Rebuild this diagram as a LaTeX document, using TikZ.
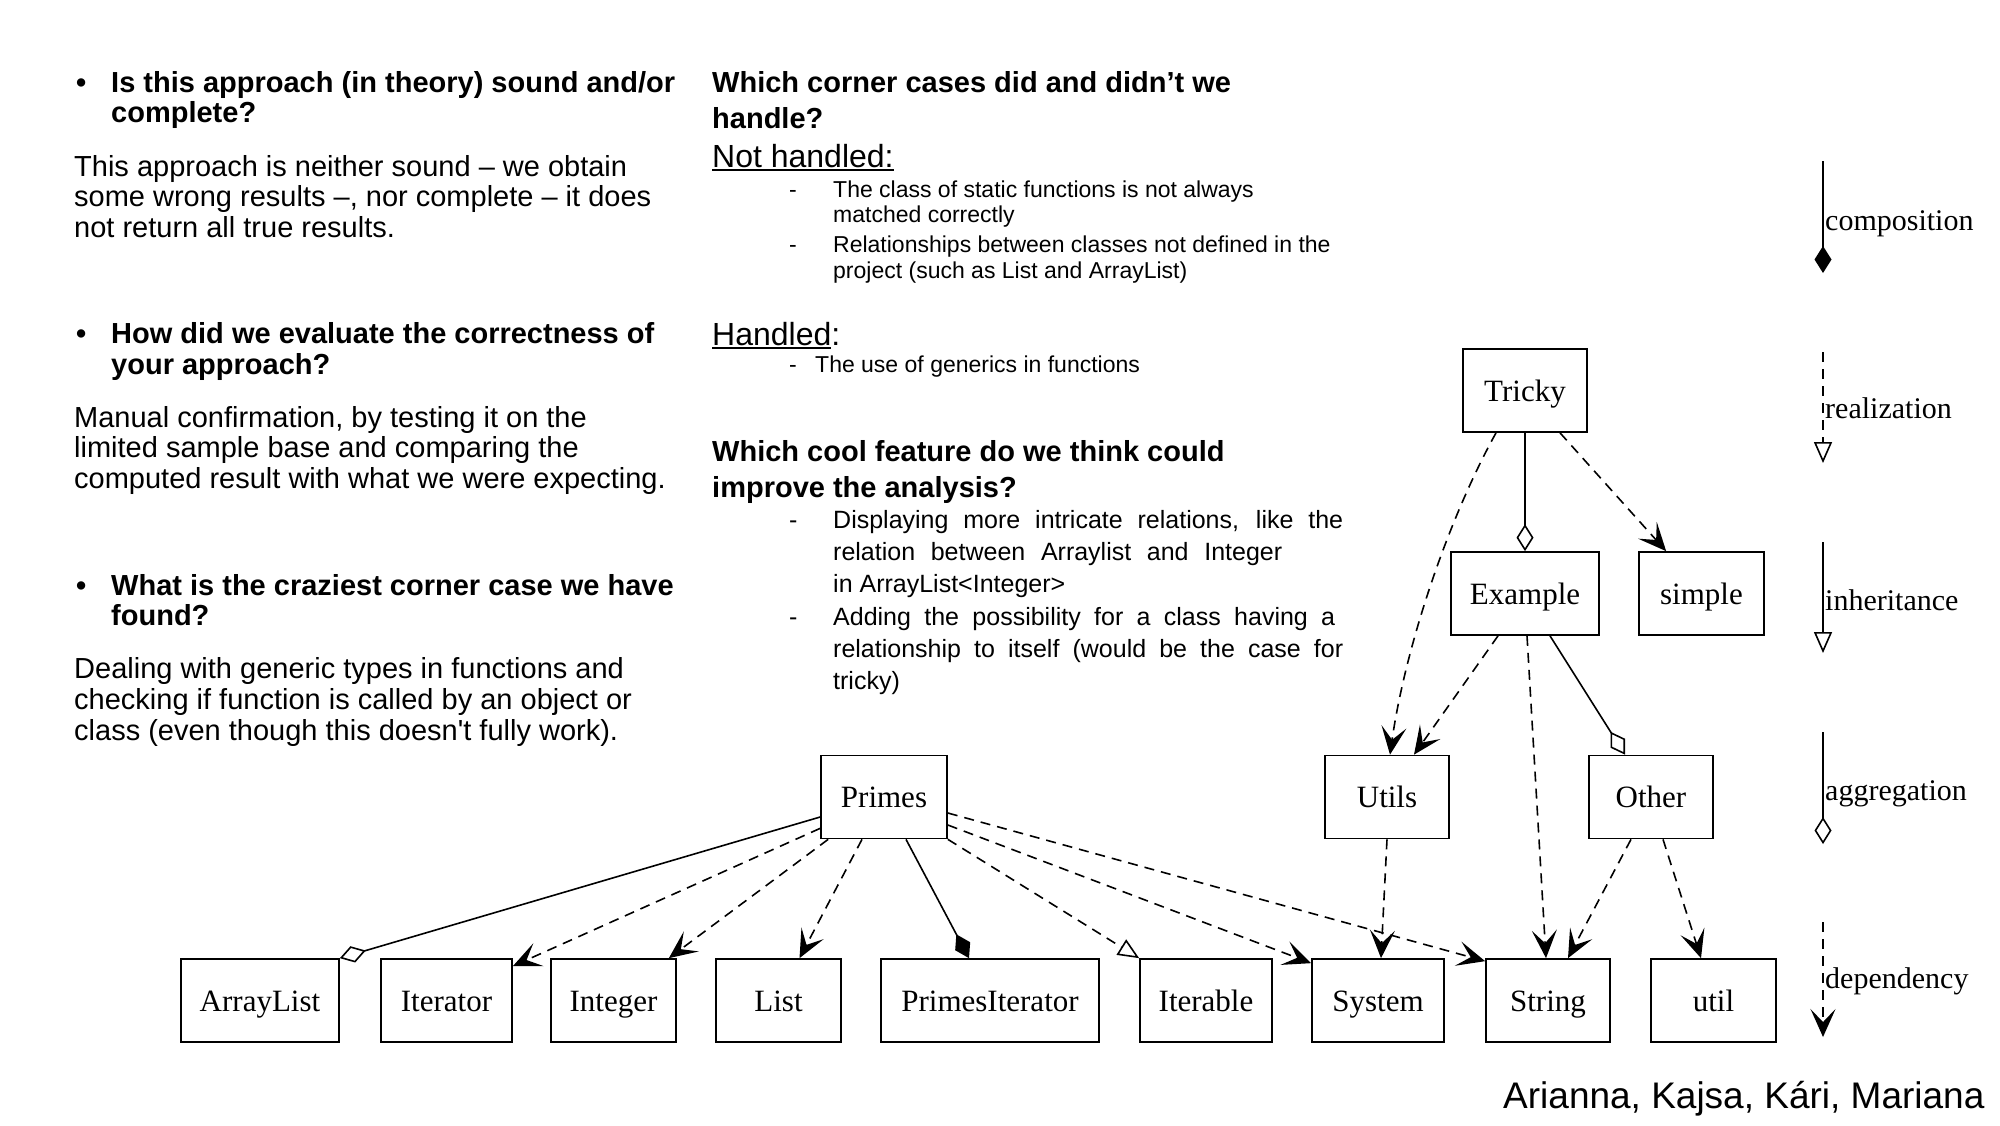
\documentclass[tikz,border=0pt]{standalone}
\usepackage{fontspec}
\setmainfont{Liberation Sans}
\newfontfamily\tmsfont{Liberation Serif}
\usetikzlibrary{arrows.meta}
\newcommand\ulx[1]{\setbox0\hbox{#1}\rlap{\rule[-4pt]{\wd0}{2pt}}\box0}
\newcommand\lns[2]{\vtop{\baselineskip=#1pt\lineskiplimit=-100pt\lineskip=0pt #2}}
\tikzset{
  cls/.style={draw, line width=1.7pt, minimum height=83pt, inner sep=0pt, text height=21pt, text depth=0pt, font=\tmsfont\fontsize{31}{31}\selectfont},
  depl/.style={line width=1.6pt, dash pattern=on 10pt off 7pt, -{Stealth[length=28pt,width=25pt,inset=13pt]}},
  aggl/.style={line width=1.6pt, -{Diamond[open,length=27pt,width=17pt]}},
  compl/.style={line width=1.6pt, -{Diamond[length=27pt,width=17pt]}},
  reall/.style={line width=1.6pt, dash pattern=on 10pt off 7pt, -{Triangle[open,length=21pt,width=18pt]}},
  inhl/.style={line width=1.6pt, -{Triangle[open,length=21pt,width=18pt]}},
  lbl/.style={anchor=base west, inner sep=0pt, font=\tmsfont\fontsize{30}{30}\selectfont},
  hd/.style={anchor=base west, inner sep=0pt, font=\bfseries\fontsize{29}{30}\selectfont},
  bd/.style={anchor=base west, inner sep=0pt, font=\fontsize{29}{30}\selectfont},
  sm/.style={anchor=base west, inner sep=0pt, font=\fontsize{23}{25}\selectfont},
  md/.style={anchor=base west, inner sep=0pt, font=\fontsize{25}{32}\selectfont},
  bg/.style={anchor=base west, inner sep=0pt, font=\fontsize{32}{32}\selectfont}
}
\begin{document}
\begin{tikzpicture}[x=1pt,y=-1pt]
\useasboundingbox (0,0) rectangle (2000,1125);
\fill[white] (0,0) rectangle (2000,1125);

% ---------- left column ----------
\node[hd] (b1) at (76,92) {•};
\node[hd] (h1) at (111,92) {\lns{30}{\hbox{Is this approach (in theory) sound and/or}\hbox{complete?}}};
\node[bd] (p1) at (74,176) {\lns{30.5}{\hbox{This approach is neither sound – we obtain}\hbox{some wrong results –, nor complete – it does}\hbox{not return all true results.}}};
\node[hd] (b2) at (76,343) {•};
\node[hd] (h2) at (111,343) {\lns{31}{\hbox{How did we evaluate the correctness of}\hbox{your approach?}}};
\node[bd] (p2) at (74,427) {\lns{30.5}{\hbox{Manual confirmation, by testing it on the}\hbox{limited sample base and comparing the}\hbox{computed result with what we were expecting.}}};
\node[hd] (b3) at (76,595) {•};
\node[hd] (h3) at (111,595) {\lns{30}{\hbox{What is the craziest corner case we have}\hbox{found?}}};
\node[bd] (p3) at (74,678) {\lns{31}{\hbox{Dealing with generic types in functions and}\hbox{checking if function is called by an object or}\hbox{class (even though this doesn\textquotesingle t fully work).}}};

% ---------- middle column ----------
\node[hd] (m1) at (712,92) {\lns{36}{\hbox{Which corner cases did and didn’t we}\hbox{handle?}}};
\node[bg] (nh) at (712,167) {\ulx{Not handled:}};
\node[sm] (d1) at (789,197) {-};
\node[sm] (i1) at (833,197) {\lns{25}{\hbox{The class of static functions is not always}\hbox{matched correctly}}};
\node[sm] (d2) at (789,252) {-};
\node[sm] (i2) at (833,252) {\lns{26}{\hbox{Relationships between classes not defined in the}\hbox{project (such as List and ArrayList)}}};
\node[bg] (hh) at (712,345) {\ulx{Handled}:};
\node[sm] (d3) at (789,372) {-};
\node[sm] (i3) at (815,372) {The use of generics in functions};
\node[hd] (m2) at (712,461) {\lns{36}{\hbox{Which cool feature do we think could}\hbox{improve the analysis?}}};
\node[md] (d4) at (789,528) {-};
\node[md] (i4) at (833,528) {\lns{32}{\hbox{\makebox[510pt][s]{Displaying more intricate relations, like the}}\hbox{\makebox[449pt][s]{relation between Arraylist and Integer}}\hbox{in ArrayList<Integer>}}};
\node[md] (d5) at (789,625) {-};
\node[md] (i5) at (833,625) {\lns{32}{\hbox{\makebox[502pt][s]{Adding the possibility for a class having a}}\hbox{\makebox[510pt][s]{relationship to itself (would be the case for}}\hbox{tricky)}}};

% ---------- class diagram ----------
\node[cls, minimum width=124pt] (Tricky) at (1525,390.5) {Tricky};
\node[cls, minimum width=148pt] (Example) at (1525,593.5) {Example};
\node[cls, minimum width=125pt] (simple) at (1701.5,593.5) {simple};
\node[cls, minimum width=124pt] (Utils) at (1387,797) {Utils};
\node[cls, minimum width=124pt] (Other) at (1651,797) {Other};
\node[cls, minimum width=126pt] (Primes) at (884,797) {Primes};
\node[cls, minimum width=158pt] (ArrayList) at (260,1000.5) {ArrayList};
\node[cls, minimum width=131pt] (Iterator) at (446.5,1000.5) {Iterator};
\node[cls, minimum width=125pt] (Integer) at (613.5,1000.5) {Integer};
\node[cls, minimum width=125pt] (List) at (778.5,1000.5) {List};
\node[cls, minimum width=218pt] (PrimesIterator) at (990,1000.5) {PrimesIterator};
\node[cls, minimum width=132pt] (Iterable) at (1206,1000.5) {Iterable};
\node[cls, minimum width=132pt] (System) at (1378,1000.5) {System};
\node[cls, minimum width=124pt] (String) at (1548,1000.5) {String};
\node[cls, minimum width=125pt] (util) at (1713.5,1000.5) {util};

\draw[aggl] ([yshift=-20pt]Primes.west) -- (ArrayList.north east);
\draw[depl] ([yshift=11pt]Primes.south west) -- ([yshift=-8pt]Iterator.north east);
\draw[depl] ([xshift=8pt]Primes.south west) -- ([xshift=-8pt]Integer.north east);
\draw[depl] ([xshift=-22pt]Primes.south) -- ([xshift=21pt]List.north);
\draw[compl] ([xshift=22pt]Primes.south) -- ([xshift=-21pt]PrimesIterator.north);
\draw[reall] (Primes.south east) -- (Iterable.north west);
\draw[depl] ([yshift=-28pt]Primes.east) -- ([yshift=-5pt]System.north west);
\draw[depl] ([yshift=-16pt]Primes.east) -- ([yshift=-3pt]String.north west);
\draw[depl] (Utils.south) -- ([xshift=3pt]System.north);
\draw[depl] ([xshift=-29pt]Tricky.south) .. controls (1444,527) and (1404,655) .. ([xshift=3pt]Utils.north);
\draw[depl] ([xshift=35pt]Tricky.south) -- ([xshift=28pt]simple.north west);
\draw[aggl] (Tricky.south) -- (Example.north);
\draw[depl] ([xshift=-27pt]Example.south) -- ([xshift=27pt]Utils.north);
\draw[depl] ([xshift=2pt]Example.south) -- ([xshift=-2pt]String.north);
\draw[aggl] ([xshift=25pt]Example.south) -- ([xshift=-26pt]Other.north);
\draw[depl] ([xshift=-20pt]Other.south) -- ([xshift=20pt]String.north);
\draw[depl] ([xshift=12pt]Other.south) -- ([xshift=-12.5pt]util.north);

% ---------- legend ----------
\coordinate (c1a) at (1823,161); \coordinate (c1b) at (1823,273);
\coordinate (c2a) at (1823,352); \coordinate (c2b) at (1823,463);
\coordinate (c3a) at (1823,542); \coordinate (c3b) at (1823,653);
\coordinate (c4a) at (1823,732); \coordinate (c4b) at (1823,844);
\coordinate (c5a) at (1823,922); \coordinate (c5b) at (1823,1037);
\draw[compl] (c1a) -- (c1b);
\draw[reall] (c2a) -- (c2b);
\draw[inhl] (c3a) -- (c3b);
\draw[aggl] (c4a) -- (c4b);
\draw[depl] (c5a) -- (c5b);
\node[lbl] (l1) at (1825,230) {composition};
\node[lbl] (l2) at (1825,418) {realization};
\node[lbl] (l3) at (1825,610) {inheritance};
\node[lbl] (l4) at (1825,800) {aggregation};
\node[lbl] (l5) at (1825,988) {dependency};

\node[anchor=base west, inner sep=0pt, font=\fontsize{37}{37}\selectfont] (auth) at (1503,1108) {Arianna, Kajsa, Kári, Mariana};
\end{tikzpicture}
\end{document}
